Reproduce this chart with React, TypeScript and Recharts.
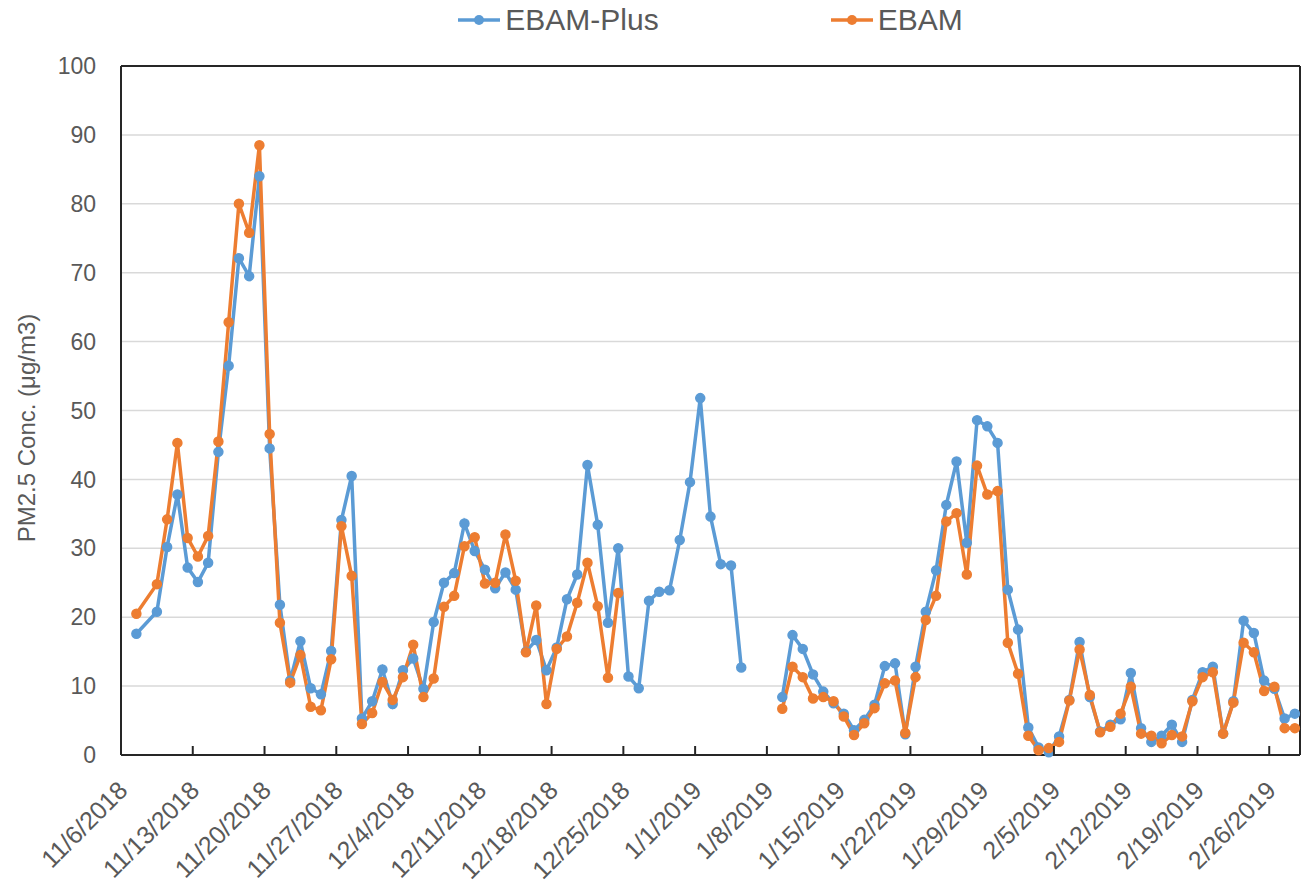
import React from "react";
import {
  LineChart,
  Line,
  XAxis,
  YAxis,
  CartesianGrid,
  Legend,
  ReferenceLine,
} from "recharts";

// ---- categories (sample dates) ----
const dates: string[] = [
  "11/7/2018", "11/9/2018", "11/10/2018", "11/11/2018", "11/12/2018", "11/13/2018", "11/14/2018", "11/15/2018",
  "11/16/2018", "11/17/2018", "11/18/2018", "11/19/2018", "11/20/2018", "11/21/2018", "11/22/2018", "11/23/2018",
  "11/24/2018", "11/25/2018", "11/26/2018", "11/27/2018", "11/28/2018", "11/29/2018", "11/30/2018",
  "12/1/2018", "12/2/2018", "12/3/2018", "12/4/2018", "12/5/2018", "12/6/2018", "12/7/2018", "12/8/2018",
  "12/9/2018", "12/10/2018", "12/11/2018", "12/12/2018", "12/13/2018", "12/14/2018", "12/15/2018", "12/16/2018",
  "12/17/2018", "12/18/2018", "12/19/2018", "12/20/2018", "12/21/2018", "12/22/2018", "12/23/2018", "12/24/2018",
  "12/25/2018", "12/26/2018", "12/27/2018", "12/28/2018", "12/29/2018", "12/30/2018", "12/31/2018",
  "1/1/2019", "1/2/2019", "1/3/2019", "1/4/2019", "1/5/2019", "1/6/2019", "1/7/2019", "1/8/2019",
  "1/9/2019", "1/10/2019", "1/11/2019", "1/12/2019", "1/13/2019", "1/14/2019", "1/15/2019", "1/16/2019",
  "1/17/2019", "1/18/2019", "1/19/2019", "1/20/2019", "1/21/2019", "1/22/2019", "1/23/2019", "1/24/2019",
  "1/25/2019", "1/26/2019", "1/27/2019", "1/28/2019", "1/29/2019", "1/30/2019", "1/31/2019",
  "2/1/2019", "2/2/2019", "2/3/2019", "2/4/2019", "2/5/2019", "2/6/2019", "2/7/2019", "2/8/2019",
  "2/9/2019", "2/10/2019", "2/11/2019", "2/12/2019", "2/13/2019", "2/14/2019", "2/15/2019", "2/16/2019",
  "2/17/2019", "2/18/2019", "2/19/2019", "2/20/2019", "2/21/2019", "2/22/2019", "2/23/2019", "2/24/2019",
  "2/25/2019", "2/26/2019", "2/27/2019", "2/28/2019",
];

// ---- series values (µg/m3) ----
const ebamPlus: (number | null)[] = [
  // Nov
  17.6, 20.8, 30.2, 37.8, 27.2, 25.1, 27.9, 44.0, 56.5, 72.1, 69.5, 84.0, 44.5, 21.8, 10.8, 16.5,
  9.7, 8.8, 15.1, 34.1, 40.5, 5.3, 7.8,
  // Dec
  12.4, 7.4, 12.3, 14.0, 9.6, 19.3, 25.0, 26.4, 33.6, 29.6, 26.9, 24.2, 26.5, 24.0, 15.0, 16.7,
  12.3, 15.6, 22.6, 26.2, 42.1, 33.4, 19.2, 30.0, 11.4, 9.7, 22.4, 23.7, 23.9, 31.2, 39.6,
  // Jan
  51.8, 34.6, 27.7, 27.5, 12.7, null, null, null, 8.4, 17.4, 15.4, 11.7, 9.2, 7.5, 6.0, 3.6,
  5.1, 7.3, 12.9, 13.3, 3.0, 12.8, 20.8, 26.8, 36.3, 42.6, 30.8, 48.6, 47.7, 45.3, 24.0,
  // Feb
  18.2, 4.0, 1.1, 0.4, 2.7, 8.0, 16.4, 8.4, 3.4, 4.4, 5.2, 11.9, 3.9, 1.9, 2.8, 4.4,
  1.9, 8.0, 12.0, 12.8, 3.1, 7.8, 19.5, 17.7, 10.8, 9.6, 5.3, 6.0,
];

const ebam: (number | null)[] = [
  // Nov
  20.5, 24.8, 34.2, 45.3, 31.5, 28.8, 31.8, 45.5, 62.8, 80.0, 75.8, 88.5, 46.6, 19.2, 10.5, 14.5,
  7.0, 6.5, 13.9, 33.2, 26.0, 4.5, 6.1,
  // Dec
  10.6, 8.0, 11.3, 16.0, 8.4, 11.1, 21.5, 23.1, 30.3, 31.6, 24.9, 25.0, 32.0, 25.3, 14.9, 21.7,
  7.4, 15.4, 17.2, 22.1, 27.9, 21.6, 11.2, 23.5, null, null, null, null, null, null, null,
  // Jan
  null, null, null, null, null, null, null, null, 6.7, 12.8, 11.3, 8.2, 8.4, 7.8, 5.6, 2.9,
  4.6, 6.8, 10.4, 10.8, 3.2, 11.3, 19.6, 23.1, 33.9, 35.1, 26.2, 42.0, 37.8, 38.3, 16.3,
  // Feb
  11.8, 2.8, 0.7, 1.0, 1.9, 7.9, 15.3, 8.7, 3.3, 4.1, 6.0, 9.9, 3.1, 2.8, 1.7, 2.9,
  2.7, 7.8, 11.3, 12.0, 3.1, 7.6, 16.3, 14.9, 9.3, 9.9, 3.9, 3.9,
];

// ---- tick labels ----
const xTickLabels: string[] = [
  "11/6/2018", "11/13/2018", "11/20/2018", "11/27/2018", "12/4/2018", "12/11/2018",
  "12/18/2018", "12/25/2018", "1/1/2019", "1/8/2019", "1/15/2019", "1/22/2019",
  "1/29/2019", "2/5/2019", "2/12/2019", "2/19/2019", "2/26/2019",
];
const yTicks: number[] = [0, 10, 20, 30, 40, 50, 60, 70, 80, 90, 100];
const axisEndDate = "3/1/2019";

const seriesNames = { plus: "EBAM-Plus", ebam: "EBAM" };
const BLUE = "#5B9BD5";
const ORANGE = "#ED7D31";
const TEXT = "#595959";
const AXIS = "#262626";
const GRID = "#D9D9D9";
const FONT = "'Liberation Sans', Arial, sans-serif";

const START = Date.UTC(2018, 10, 6);
function dayIndex(s: string): number {
  const [m, d, y] = s.split("/").map(Number);
  return Math.round((Date.UTC(y, m - 1, d) - START) / 86400000);
}

// each date occupies one day-slot; the point sits in the middle of its slot
const data = dates.map((date, i) => ({
  date,
  day: dayIndex(date) + 0.5,
  plus: ebamPlus[i],
  ebam: ebam[i],
}));

const xTicks = xTickLabels.map(dayIndex);
const labelByDay: Record<number, string> = {};
xTickLabels.forEach((l) => (labelByDay[dayIndex(l)] = l));
const xMax = dayIndex(axisEndDate);

const XTick = (props: any) => {
  const { x, y, payload } = props;
  const ax = x + 8;
  const ay = y + 37;
  return (
    <g>
      <line x1={x} x2={x} y1={y} y2={y - 9} stroke={AXIS} strokeWidth={2} />
      <text
        x={ax}
        y={ay}
        transform={`rotate(-45 ${ax} ${ay})`}
        textAnchor="end"
        fontSize={25}
        fontFamily={FONT}
        fill={TEXT}
      >
        {labelByDay[payload.value]}
      </text>
    </g>
  );
};

const LegendContent = () => {
  const items = [
    { name: seriesNames.plus, color: BLUE },
    { name: seriesNames.ebam, color: ORANGE },
  ];
  return (
    <div
      style={{
        display: "flex",
        justifyContent: "center",
        gap: 172,
        fontFamily: FONT,
        fontSize: 30,
        lineHeight: "40px",
        color: TEXT,
      }}
    >
      {items.map((it) => (
        <div key={it.name} style={{ display: "flex", alignItems: "center" }}>
          <svg width={42} height={12} style={{ display: "block" }}>
            <line x1={0} y1={6} x2={42} y2={6} stroke={it.color} strokeWidth={3.5} />
            <circle cx={21} cy={6} r={5} fill={it.color} />
          </svg>
          <span style={{ marginLeft: 5 }}>{it.name}</span>
        </div>
      ))}
    </div>
  );
};

export default function App() {
  return (
    <div style={{ position: "absolute", left: 0, top: 0, background: "#fff" }}>
      <LineChart
        width={1301}
        height={886}
        data={data}
        margin={{ top: 66, right: 1, bottom: 0, left: 0 }}
      >
        <CartesianGrid horizontal vertical={false} stroke={GRID} strokeWidth={1.5} />
        <XAxis
          dataKey="day"
          type="number"
          domain={[0, xMax]}
          ticks={xTicks}
          interval={0}
          height={131}
          tickSize={0}
          tickMargin={0}
          tickLine={false}
          axisLine={{ stroke: AXIS, strokeWidth: 2 }}
          tick={<XTick />}
        />
        <YAxis
          type="number"
          domain={[0, 100]}
          ticks={yTicks}
          interval={0}
          width={121}
          tickSize={0}
          tickMargin={25}
          tickLine={false}
          axisLine={{ stroke: AXIS, strokeWidth: 2 }}
          tick={{ fontSize: 23, fill: TEXT, fontFamily: FONT }}
          label={() => (
            <text
              x={26}
              y={428}
              transform="rotate(-90 26 428)"
              textAnchor="middle"
              dominantBaseline="central"
              fontSize={24}
              fontFamily={FONT}
              fill={TEXT}
            >
              PM2.5 Conc. (μg/m3)
            </text>
          )}
        />
        <ReferenceLine y={100} stroke={AXIS} strokeWidth={2} />
        <ReferenceLine x={xMax} stroke={AXIS} strokeWidth={2} />
        <Legend
          layout="horizontal"
          verticalAlign="middle"
          align="center"
          wrapperStyle={{ top: 0, left: 121, width: 1179, height: 40 }}
          content={<LegendContent />}
        />
        <Line
          type="linear"
          dataKey="plus"
          name={seriesNames.plus}
          stroke={BLUE}
          strokeWidth={3.5}
          dot={{ r: 4.5, fill: BLUE, stroke: BLUE, strokeWidth: 1.5 }}
          activeDot={false}
          connectNulls={false}
          isAnimationActive={false}
        />
        <Line
          type="linear"
          dataKey="ebam"
          name={seriesNames.ebam}
          stroke={ORANGE}
          strokeWidth={3.5}
          dot={{ r: 4.5, fill: ORANGE, stroke: ORANGE, strokeWidth: 1.5 }}
          activeDot={false}
          connectNulls={false}
          isAnimationActive={false}
        />
      </LineChart>
    </div>
  );
}
